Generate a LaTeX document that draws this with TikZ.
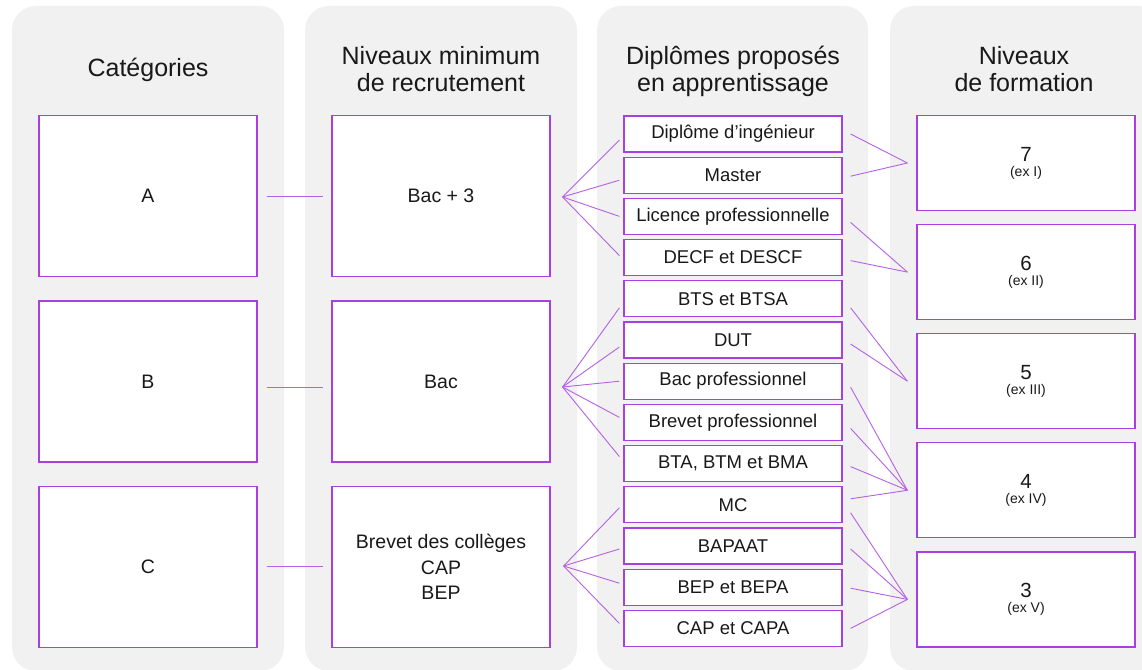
\documentclass[tikz,border=0pt]{standalone}
\usepackage{fontspec}
\setmainfont{Liberation Sans}
\usetikzlibrary{calc}
\newlength{\du}
\setlength{\du}{1pt}
\definecolor{panelgray}{rgb}{0.945,0.945,0.945}
\definecolor{boxline}{rgb}{0.660,0.250,0.880}
\definecolor{linkline}{rgb}{0.710,0.380,0.890}
\definecolor{textcol}{rgb}{0.100,0.100,0.100}
\tikzset{
  panel/.style={fill=panelgray, rounded corners=24\du},
  title/.style={font=\fontsize{25}{27}\selectfont, text=textcol, align=center},
  bigbox/.style={draw=boxline, line width=1.2\du, fill=white, inner sep=0pt,
    minimum width=218\du, minimum height=161\du, align=center, text=textcol,
    font=\fontsize{19.5}{25.5}\selectfont},
  dipbox/.style={bigbox, minimum height=36\du, font=\fontsize{18.5}{22}\selectfont},
  lvlbox/.style={bigbox, minimum height=95\du, font=\fontsize{20.5}{15}\selectfont},
  link/.style={draw=linkline, line width=0.9\du},
}

\begin{document}
\begin{tikzpicture}
\pgftransformyscale{-1.000000}
\useasboundingbox (0\du,0\du) rectangle (1142\du,669\du);
\clip (0\du,0\du) rectangle (1142\du,669\du);
% columns
\fill[panel] (12\du,6\du) rectangle (284\du,671\du);
\fill[panel] (305\du,6\du) rectangle (577\du,671\du);
\fill[panel] (597\du,6\du) rectangle (868\du,671\du);
\fill[panel] (890\du,6\du) rectangle (1162\du,671\du);
% titles (base = last line)
\node[title, anchor=base] (tCat) at (148\du,76\du) {Catégories};
\node[title, anchor=base] (tRec) at (441\du,91\du) {Niveaux minimum\\de recrutement};
\node[title, anchor=base] (tDip) at (733\du,91\du) {Diplômes proposés\\en apprentissage};
\node[title, anchor=base] (tLvl) at (1024\du,91\du) {Niveaux\\de formation};
% categories and recruitment
\node[bigbox] (catA) at (148\du,196\du) {A};
\node[bigbox] (catB) at (148\du,381.5\du) {B};
\node[bigbox] (catC) at (148\du,567\du) {C};
\node[bigbox] (recA) at (441\du,196\du) {Bac + 3};
\node[bigbox] (recB) at (441\du,381.5\du) {Bac};
\node[bigbox] (recC) at (441\du,567\du) {Brevet des collèges\\CAP\\BEP};
% diplomas
\foreach \i/\txt [evaluate=\i as \y using 92.8+41.2*\i] in {1/{Diplôme d’ingénieur},2/Master,
    3/{Licence professionnelle},4/{DECF et DESCF},5/{BTS et BTSA},6/DUT,
    7/{Bac professionnel},8/{Brevet professionnel},9/{BTA, BTM et BMA},10/MC,
    11/BAPAAT,12/{BEP et BEPA},13/{CAP et CAPA}}
  \node[dipbox] (dip\i) at (733\du,\y\du) {\txt};
% levels
\foreach \i/\lv/\ex [evaluate=\i as \y using 163+109.1*\i] in {0/7/I,1/6/II,2/5/III,3/4/IV,4/3/V}
  \node[lvlbox] (lvl\lv) at (1026\du,\y\du) {\lv\\{\fontsize{14}{15}\selectfont (ex \ex)}};
% links
\draw[link] ($(catA.east)+(9\du,0)$) -- ($(recA.west)+(-8\du,0)$);
\draw[link] ($(catB.east)+(9\du,5.5\du)$) -- ($(recB.west)+(-8\du,5.5\du)$);
\draw[link] ($(catC.east)+(9\du,-1\du)$) -- ($(recC.west)+(-8\du,-1\du)$);
\coordinate (fanA) at ($(recA.east)+(12\du,1\du)$);
\coordinate (fanB) at ($(recB.east)+(12\du,5.5\du)$);
\coordinate (fanC) at ($(recC.east)+(13\du,-1\du)$);
\foreach \n/\dy in {1/6,2/5,3/0,4/-2}
  \draw[link] (fanA) -- ($(dip\n.west)+(-4\du,\dy\du)$);
\foreach \n/\dy in {5/9,6/7,7/0,8/-5,9/-7}
  \draw[link] (fanB) -- ($(dip\n.west)+(-4\du,\dy\du)$);
\foreach \n/\dy in {10/3,11/3,12/-4,13/-5}
  \draw[link] (fanC) -- ($(dip\n.west)+(-4\du,\dy\du)$);
\foreach \n/\lv/\dy in {1/7/0,2/7/1,3/6/6,4/6/3,5/5/9,6/5/4,7/4/6,8/4/6,9/4/3,
    10/4/-6,10/3/8,11/3/3,12/3/1,13/3/0}
  \draw[link] ($(dip\n.east)+(8\du,\dy\du)$) -- ($(lvl\lv.west)+(-9\du,0)$);
\end{tikzpicture}
\end{document}
